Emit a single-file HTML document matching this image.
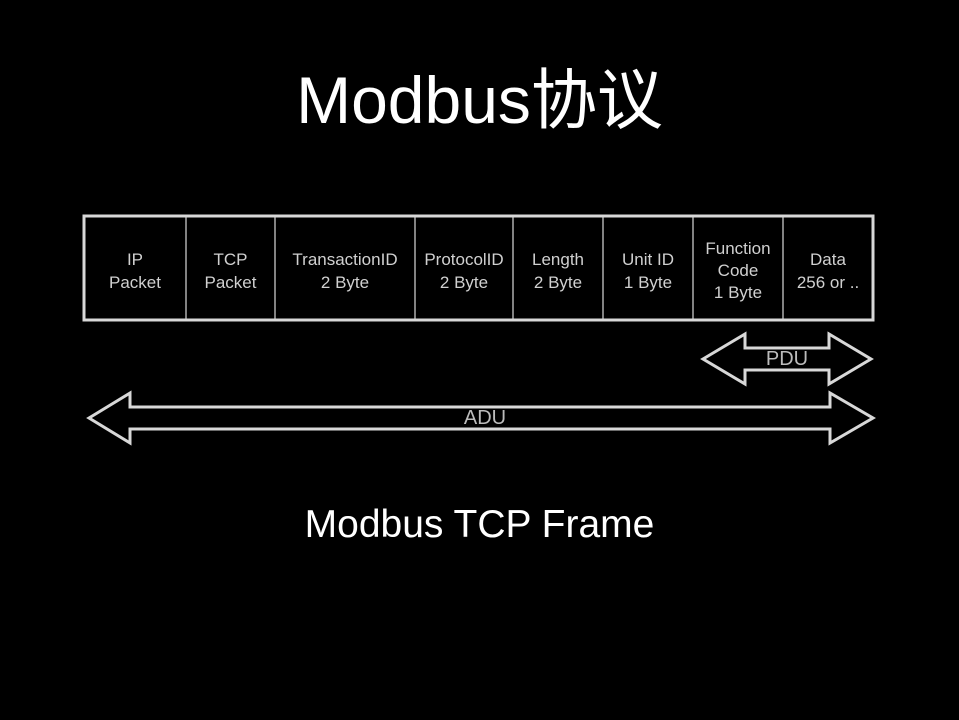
<!DOCTYPE html>
<html><head><meta charset="utf-8"><style>
html,body{margin:0;padding:0;background:#000;}
body{width:959px;height:720px;position:relative;overflow:hidden;font-family:"Liberation Sans","Noto Sans CJK SC",sans-serif;color:#fff;}
.t{position:absolute;left:0;width:959px;text-align:center;}
.c{position:absolute;top:218px;height:106px;display:flex;align-items:center;justify-content:center;text-align:center;font-size:17px;line-height:23px;color:#d0d0d0;}
</style></head><body>
<div class="t" style="top:60px;font-size:66px;line-height:80px;">Modbus协议</div>
<svg width="959" height="720" style="position:absolute;left:0;top:0" fill="none" stroke="#d8d8d8">
<rect x="84" y="216" width="789" height="104" stroke-width="3"/>
<g stroke-width="1.2">
<line x1="186" y1="216" x2="186" y2="320"/><line x1="275" y1="216" x2="275" y2="320"/>
<line x1="415" y1="216" x2="415" y2="320"/><line x1="513" y1="216" x2="513" y2="320"/>
<line x1="603" y1="216" x2="603" y2="320"/><line x1="693" y1="216" x2="693" y2="320"/>
<line x1="783" y1="216" x2="783" y2="320"/></g>
<polygon stroke-width="3" points="703,359 745,334 745,348 829,348 829,334 871,359 829,384 829,370 745,370 745,384"/>
<polygon stroke-width="3" points="89,418 130,393 130,407 830,407 830,393 873,418 830,443 830,429 130,429 130,443"/>
</svg>
<div class="c" style="left:84px;width:102px">IP<br>Packet</div>
<div class="c" style="left:186px;width:89px">TCP<br>Packet</div>
<div class="c" style="left:275px;width:140px">TransactionID<br>2 Byte</div>
<div class="c" style="left:415px;width:98px">ProtocolID<br>2 Byte</div>
<div class="c" style="left:513px;width:90px">Length<br>2 Byte</div>
<div class="c" style="left:603px;width:90px">Unit ID<br>1 Byte</div>
<div class="c" style="left:693px;width:90px;line-height:22px">Function<br>Code<br>1 Byte</div>
<div class="c" style="left:783px;width:90px">Data<br>256 or ..</div>
<div style="position:absolute;left:745px;width:84px;top:348px;font-size:20px;text-align:center;color:#bbb">PDU</div>
<div style="position:absolute;left:430px;width:110px;top:407px;font-size:20px;text-align:center;color:#bbb">ADU</div>
<div class="t" style="top:502px;font-size:39px;line-height:46px;">Modbus TCP Frame</div>
</body></html>
